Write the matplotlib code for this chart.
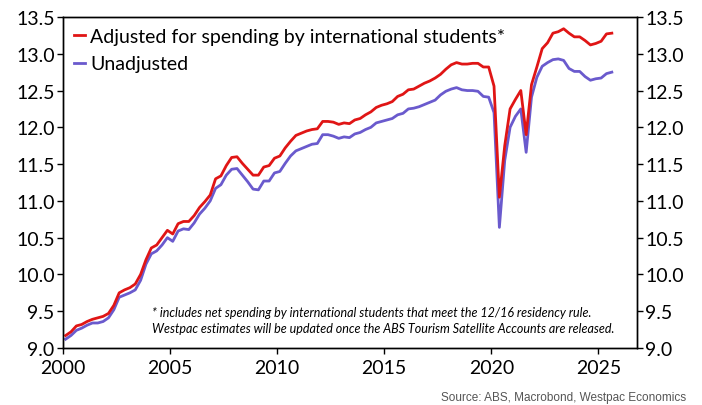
import numpy as np
import matplotlib
matplotlib.use("Agg")
from matplotlib import pyplot as plt
from matplotlib.ticker import FormatStrFormatter

plt.rcParams['font.family'] = ['Lato', 'DejaVu Sans']

# quarterly, 2000Q1 .. 2025Q3 (plotted mid-quarter)
quarters = 2000.125 + 0.25 * np.arange(103)

adjusted = [
    9.17, 9.22, 9.30, 9.32, 9.36, 9.39, 9.41, 9.43, 9.47, 9.58,
    9.75, 9.79, 9.82, 9.87, 10.00, 10.20, 10.36, 10.40, 10.50, 10.60,
    10.55, 10.69, 10.72, 10.72, 10.80, 10.91, 10.99, 11.08, 11.30, 11.34,
    11.48, 11.59, 11.60, 11.51, 11.43, 11.35, 11.35, 11.46, 11.48, 11.58,
    11.61, 11.72, 11.81, 11.89, 11.92, 11.95, 11.97, 11.98, 12.08, 12.08,
    12.07, 12.04, 12.06, 12.05, 12.10, 12.12, 12.17, 12.21, 12.27, 12.30,
    12.32, 12.35, 12.42, 12.45, 12.51, 12.52, 12.56, 12.60, 12.63, 12.67,
    12.72, 12.79, 12.85, 12.88, 12.86, 12.86, 12.87, 12.87, 12.82, 12.82,
    12.56, 11.05, 11.75, 12.25, 12.38, 12.50, 11.90, 12.58, 12.82, 13.07,
    13.15, 13.28, 13.30, 13.34, 13.28, 13.23, 13.23, 13.18, 13.12, 13.14,
    13.17, 13.27, 13.28,
]

unadjusted = [
    9.12, 9.17, 9.24, 9.27, 9.31, 9.34, 9.34, 9.36, 9.41, 9.52,
    9.69, 9.72, 9.75, 9.79, 9.92, 10.14, 10.28, 10.32, 10.40, 10.50,
    10.45, 10.59, 10.62, 10.61, 10.70, 10.82, 10.90, 11.00, 11.17, 11.22,
    11.35, 11.43, 11.44, 11.35, 11.26, 11.16, 11.15, 11.27, 11.27, 11.38,
    11.40, 11.51, 11.61, 11.68, 11.71, 11.74, 11.77, 11.78, 11.90, 11.90,
    11.88, 11.85, 11.87, 11.86, 11.91, 11.93, 11.97, 12.00, 12.06, 12.08,
    12.10, 12.12, 12.17, 12.19, 12.25, 12.26, 12.28, 12.31, 12.34, 12.37,
    12.44, 12.49, 12.52, 12.54, 12.51, 12.50, 12.50, 12.49, 12.42, 12.41,
    12.20, 10.64, 11.55, 12.00, 12.15, 12.25, 11.66, 12.41, 12.68, 12.83,
    12.88, 12.92, 12.93, 12.91, 12.80, 12.76, 12.76, 12.69, 12.64, 12.66,
    12.67, 12.73, 12.75,
]

year_ticks = [2000, 2005, 2010, 2015, 2020, 2025]
y_ticks = np.arange(9.0, 13.51, 0.5)

fig = plt.figure(figsize=(7.02, 4.06), dpi=100)
ax = fig.add_axes([0.0897, 0.1404, 0.8177, 0.8153])

ax.plot(quarters, unadjusted, color='#6a5acd', lw=2.0, label='Unadjusted', zorder=2)
ax.plot(quarters, adjusted, color='#e01515', lw=2.0,
        label='Adjusted for spending by international students*', zorder=3)

ax.set_xlim(2000, 2026.8)
ax.set_ylim(9.0, 13.5)
ax.set_xticks(year_ticks)
ax.set_yticks(y_ticks)
ax.yaxis.set_major_formatter(FormatStrFormatter('%.1f'))
ax.tick_params(labelsize=14, length=4, width=1, direction='out', pad=2)
ax.tick_params(axis='x', pad=4)

ax2 = ax.twinx()
ax2.set_ylim(9.0, 13.5)
ax2.set_yticks(y_ticks)
ax2.yaxis.set_major_formatter(FormatStrFormatter('%.1f'))
ax2.tick_params(labelsize=14, length=4, width=1, direction='out', pad=2)

for a in (ax, ax2):
    for s in a.spines.values():
        s.set_linewidth(1.0)
        s.set_color('black')

h, l = ax.get_legend_handles_labels()
ax.legend(h[::-1], l[::-1], loc='upper left', frameon=False, fontsize=14,
          handlelength=0.6, handletextpad=0.25, borderaxespad=0.45,
          labelspacing=0.55, borderpad=0.1)

fig.text(152 / 702, 1 - 321 / 406,
         "* includes net spending by international students that meet the 12/16 residency rule.\n"
         "Westpac estimates will be updated once the ABS Tourism Satellite Accounts are released.",
         fontsize=9, style='italic', ha='left', va='center', linespacing=1.35)

fig.text(686 / 702, 1 - 398 / 406, "Source: ABS, Macrobond, Westpac Economics",
         fontsize=8.5, color='#555555', ha='right', va='center',
         family=['Liberation Sans', 'DejaVu Sans'])

fig.savefig('out.png', dpi=100)
